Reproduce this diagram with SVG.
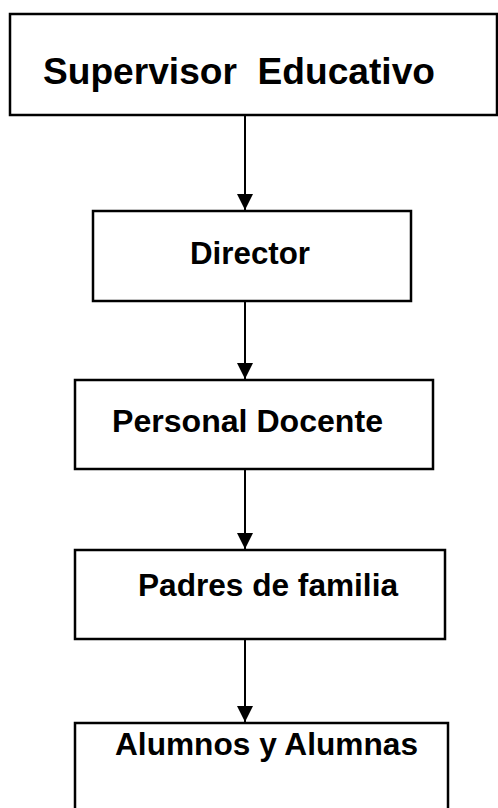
<svg xmlns="http://www.w3.org/2000/svg" width="498" height="808" viewBox="0 0 498 808">
<style>
.box{fill:#fff;stroke:#000;stroke-width:2.5}
.lbl{font-family:"Liberation Sans",Arial,sans-serif;font-weight:bold;fill:#000}
.conn{stroke:#000;stroke-width:2;fill:none}
</style>
<defs>
<marker id="ah" markerUnits="userSpaceOnUse" markerWidth="16" markerHeight="16" refX="16" refY="8" orient="auto">
<path d="M0,0 L16,8 L0,16 Z" fill="#000"/>
</marker>
</defs>
<rect width="498" height="808" fill="#fff"/>
<g id="connectors">
<line class="conn" x1="245" y1="115" x2="245" y2="210" marker-end="url(#ah)"/>
<line class="conn" x1="245" y1="301" x2="245" y2="379" marker-end="url(#ah)"/>
<line class="conn" x1="245" y1="469" x2="245" y2="549" marker-end="url(#ah)"/>
<line class="conn" x1="245" y1="639" x2="245" y2="722" marker-end="url(#ah)"/>
</g>
<g id="supervisor">
<rect class="box" x="10" y="14" width="487" height="101"/>
<text class="lbl" x="43" y="84" font-size="37" textLength="392" lengthAdjust="spacingAndGlyphs" xml:space="preserve">Supervisor  Educativo</text>
</g>
<g id="director">
<rect class="box" x="93" y="211" width="318" height="90"/>
<text class="lbl" x="190" y="264" font-size="31" textLength="120" lengthAdjust="spacingAndGlyphs">Director</text>
</g>
<g id="personal">
<rect class="box" x="75" y="380" width="358" height="89"/>
<text class="lbl" x="112" y="432" font-size="31" textLength="271" lengthAdjust="spacingAndGlyphs">Personal Docente</text>
</g>
<g id="padres">
<rect class="box" x="75" y="550" width="370" height="89"/>
<text class="lbl" x="138" y="596" font-size="31" textLength="260" lengthAdjust="spacingAndGlyphs">Padres de familia</text>
</g>
<g id="alumnos">
<rect class="box" x="75" y="723" width="373" height="100"/>
<text class="lbl" x="115" y="755" font-size="31" textLength="303" lengthAdjust="spacingAndGlyphs">Alumnos y Alumnas</text>
</g>
</svg>
